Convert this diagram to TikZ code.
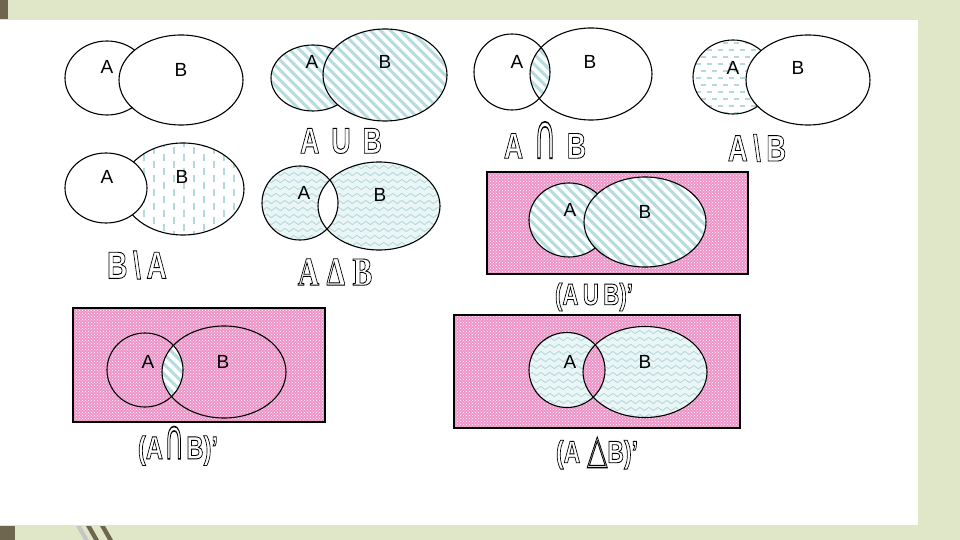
\documentclass[tikz,border=0pt]{standalone}
\usepackage{fontspec}
\setmainfont{Liberation Sans}
\newfontfamily\serifcap{Liberation Serif}
\newfontfamily\symfont{DejaVu Sans}
\usetikzlibrary{patterns,decorations.pathmorphing}

\definecolor{bggreen}{RGB}{224,231,200}
\definecolor{barlight}{RGB}{243,245,234}
\definecolor{darkolive}{RGB}{110,102,78}
\definecolor{stripeblue}{RGB}{182,220,224}
\definecolor{wavebg}{RGB}{234,246,246}
\definecolor{waveblue}{RGB}{178,214,218}
\definecolor{dashblue}{RGB}{180,216,220}
\definecolor{pinkbase}{RGB}{238,148,200}

% outlined (hollow) caption text: PDF text render mode "stroke"
\newcommand\outl[1]{\special{pdf:literal direct 1 Tr 0.9 w 0 0 0 RG}#1\special{pdf:literal direct 0 Tr}}
\newcommand\narrow[1]{\scalebox{0.74}[1]{#1}}
\newcommand\capsym{{\symfont\mdseries\scalebox{1.15}[1.75]{∩}}}
\newcommand\trisym{{\symfont\mdseries\scalebox{1.15}[1.3]{△}}}

\tikzset{
  setline/.style={draw=black, line width=1.1pt},
  lbl/.style={font=\fontsize{19}{19}\selectfont, inner sep=0pt},
  capnode/.style={font=\fontsize{36}{36}\selectfont\bfseries, inner sep=0pt},
  capsmall/.style={font=\fontsize{30}{30}\selectfont\bfseries, inner sep=0pt},
  stripe/.style={draw=stripeblue, line width=3pt},
  wave/.style={draw=waveblue, line width=0.8pt, decorate, decoration={snake, amplitude=1.6pt, segment length=9pt}},
  hdash/.style={draw=dashblue, line width=1.2pt, dash pattern=on 5pt off 6pt},
  vdash/.style={draw=dashblue, line width=1.2pt, dash pattern=on 7pt off 7pt},
  pinkfill/.style={fill=pinkbase},
  dotfill/.style={pattern=crosshatch dots, pattern color=white},
}

% fill helpers: #1 = closed path
\newcommand\stripeit[1]{\begin{scope}\clip #1;\fill[white] (0,0) rectangle (960,540);
  \foreach \k in {-400,-390,...,760}{\draw[stripe] (\k,0) -- ++(560,560);}\end{scope}}
\newcommand\waveit[5]{\begin{scope}\clip #1;\fill[wavebg] (0,0) rectangle (960,540);
  \foreach \k in {#4,...,#5}{\draw[wave] (#2,\k) -- (#3,\k);}\end{scope}}
\newcommand\pinkit[1]{\fill[pinkfill] #1;\fill[dotfill] #1;}

\begin{document}
\begin{tikzpicture}[x=1pt,y=-1pt]
\useasboundingbox (0,0) rectangle (960,540);
% slide background
\fill[bggreen] (0,0) rectangle (960,540);
\shade[left color=bggreen, middle color=barlight, right color=bggreen] (0,0) rectangle (960,20);
\fill[white] (0,20) rectangle (918,525);
\fill[darkolive] (0,0) rectangle (8,19);
\fill[darkolive] (0,526) rectangle (15,540);
\fill[gray!45] (76,526) -- (81,526) -- (89,540) -- (84,540) -- cycle;
\fill[darkolive] (86,526) -- (91,526) -- (99,540) -- (94,540) -- cycle;
\fill[darkolive] (100,526) -- (105,526) -- (113,540) -- (108,540) -- cycle;

% ---------- D1 : A, B ----------
\draw[setline] (107,78) ellipse [x radius=42, y radius=37];
\filldraw[setline, fill=white] (181,80) ellipse [x radius=62, y radius=45];
\node[lbl] (d1a) at (107,67) {A};
\node[lbl] (d1b) at (181,70) {B};

% ---------- D2 : A U B ----------
\stripeit{(313,78) ellipse [x radius=42, y radius=33]}
\draw[setline] (313,78) ellipse [x radius=42, y radius=33];
\stripeit{(385,75) ellipse [x radius=62, y radius=46]}
\draw[setline] (385,75) ellipse [x radius=62, y radius=46];
\node[lbl] (d2a) at (312,62) {A};
\node[lbl] (d2b) at (385,62) {B};
\node[capnode] (c2) at (341,141) {\narrow{\outl{A\hspace{0.45em}U\hspace{0.45em}B}}};

% ---------- D3 : A cap B ----------
\begin{scope}
  \clip (512,72) ellipse [x radius=38, y radius=38];
  \stripeit{(591,74) ellipse [x radius=61, y radius=46]}
\end{scope}
\draw[setline] (512,72) ellipse [x radius=38, y radius=38];
\draw[setline] (591,74) ellipse [x radius=61, y radius=46];
\node[lbl] (d3a) at (517,62) {A};
\node[lbl] (d3b) at (590,62) {B};
\node[capnode] (c3) at (545,140) {\narrow{\outl{A\hspace{0.4em}\capsym\hspace{0.4em}B}}};

% ---------- D4 : A \ B ----------
\begin{scope}
  \clip (733,77) ellipse [x radius=40, y radius=37];
  \foreach \k in {43,57,...,113}{\draw[hdash] (690,\k) -- (780,\k);}
  \foreach \k in {50,64,...,113}{\draw[hdash] (695.5,\k) -- (780,\k);}
\end{scope}
\draw[setline] (733,77) ellipse [x radius=40, y radius=37];
\filldraw[setline, fill=white] (808,80) ellipse [x radius=62, y radius=45];
\node[lbl] (d4a) at (733,68) {A};
\node[lbl] (d4b) at (798,68) {B};
\node[capnode, font=\fontsize{37}{37}\selectfont\bfseries] (c4) at (757,148) {\narrow{\outl{A\hspace{0.2em}\textbackslash\hspace{0.2em}B}}};

% ---------- D5 : B \ A ----------
\begin{scope}
  \clip (183,189) ellipse [x radius=61, y radius=46];
  \foreach \k in {124,144,...,244}{\draw[vdash] (\k,140) -- (\k,240);}
  \foreach \k in {134,154,...,244}{\draw[vdash] (\k,147) -- (\k,240);}
\end{scope}
\draw[setline] (183,189) ellipse [x radius=61, y radius=46];
\filldraw[setline, fill=white] (106,188) ellipse [x radius=41, y radius=35];
\node[lbl] (d5a) at (107,177) {A};
\node[lbl] (d5b) at (182,177) {B};
\node[capnode, font=\fontsize{38}{38}\selectfont\bfseries] (c5) at (137,265) {\narrow{\outl{B\hspace{0.2em}\textbackslash\hspace{0.2em}A}}};

% ---------- D6 : A Delta B ----------
\waveit{(300,203) ellipse [x radius=38, y radius=37]}{255}{445}{160,167}{255}
\waveit{(379,206) ellipse [x radius=61, y radius=44]}{255}{445}{160,167}{255}
\begin{scope}
  \clip (300,203) ellipse [x radius=38, y radius=37];
  \fill[white] (379,206) ellipse [x radius=61, y radius=44];
\end{scope}
\draw[setline] (300,203) ellipse [x radius=38, y radius=37];
\draw[setline] (379,206) ellipse [x radius=61, y radius=44];
\node[lbl] (d6a) at (304,193) {A};
\node[lbl] (d6b) at (380,195) {B};
\node[capnode, font=\fontsize{40}{40}\selectfont\serifcap\bfseries] (c6) at (335,272) {\narrow{\outl{A Δ B}}};

% ---------- D7 : (A U B)' ----------
\pinkit{(487,172) rectangle (748,274)}
\stripeit{(569,220) ellipse [x radius=40, y radius=37]}
\draw[setline] (569,220) ellipse [x radius=40, y radius=37];
\stripeit{(645,222) ellipse [x radius=61, y radius=45]}
\draw[setline] (645,222) ellipse [x radius=61, y radius=45];
\draw[setline] (487,172) rectangle (748,274);
\node[lbl] (d7a) at (570,210) {A};
\node[lbl] (d7b) at (645,212) {B};
\node[capsmall] (c7) at (594,297) {\narrow{\outl{(A\hspace{0.2em}U\hspace{0.2em}B)'}}};

% ---------- D8 : (A cap B)' ----------
\pinkit{(73,308) rectangle (325,422)}
\begin{scope}
  \clip (145,370) ellipse [x radius=38, y radius=37];
  \stripeit{(224,372) ellipse [x radius=62, y radius=46]}
\end{scope}
\draw[setline] (145,370) ellipse [x radius=38, y radius=37];
\draw[setline] (224,372) ellipse [x radius=62, y radius=46];
\draw[setline] (73,308) rectangle (325,422);
\node[lbl] (d8a) at (148,362) {A};
\node[lbl] (d8b) at (223,362) {B};
\node[capsmall, font=\fontsize{32}{32}\selectfont\bfseries] (c8) at (178,446) {\narrow{\outl{(A\hspace{0.05em}\capsym\hspace{0.1em}B)'}}};

% ---------- D9 : (A Delta B)' ----------
\pinkit{(454,315) rectangle (740,428)}
\waveit{(567,370) ellipse [x radius=38, y radius=37.5]}{520}{715}{325,332}{425}
\waveit{(645,372) ellipse [x radius=62, y radius=45.5]}{520}{715}{325,332}{425}
\begin{scope}
  \clip (567,370) ellipse [x radius=38, y radius=37.5];
  \pinkit{(645,372) ellipse [x radius=62, y radius=45.5]}
\end{scope}
\draw[setline] (567,370) ellipse [x radius=38, y radius=37.5];
\draw[setline] (645,372) ellipse [x radius=62, y radius=45.5];
\draw[setline] (454,315) rectangle (740,428);
\node[lbl] (d9a) at (570,362) {A};
\node[lbl] (d9b) at (645,362) {B};
\node[capsmall, font=\fontsize{31}{31}\selectfont\bfseries] (c9) at (597,453) {\narrow{\outl{(A\hspace{0.3em}\trisym B)'}}};
\end{tikzpicture}
\end{document}
